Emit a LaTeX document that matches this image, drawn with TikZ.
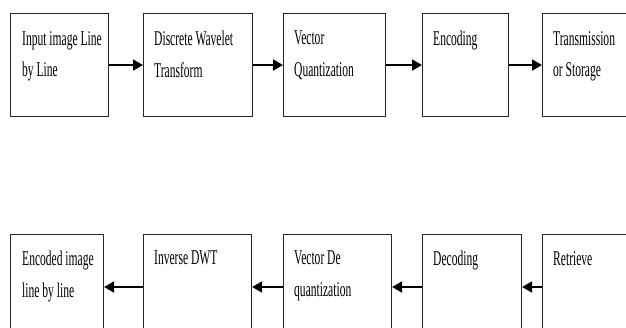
\documentclass[tikz,border=0pt]{standalone}
\usepackage{fontspec}
\setmainfont{Liberation Serif}[FakeStretch=0.55]
\usetikzlibrary{arrows.meta,positioning}
\begin{document}
\begin{tikzpicture}
            [x=1pt,y=-1pt,
             blk/.style ={draw=black!85,line width=1.1pt,anchor=north west,minimum height=103},
             lowblk/.style ={blk,minimum height=115},
             lbl/.style ={anchor=north west,inner sep=0pt,align=left,font=\fontsize{21}{31.5}\selectfont},
             flow/.style ={line width=1.8pt,-{Triangle[length=10pt,width=11pt]}}]
            \useasboundingbox (0,0) rectangle (626,328);
            \clip (0,0) rectangle (626,328);
            % top row
            \node[blk,minimum width=98] (input) at (10,13){};
            \node[blk,minimum width=109] (dwt) at (143,13){};
            \node[blk,minimum width=102] (vq) at (283,13){};
            \node[blk,minimum width=86] (enc) at (422,13){};
            \node[blk,minimum width=100] (trans) at (542,13){};
            \node[lbl] (tinput) at (22,31){Input image Line\\by Line};
            \node[lbl] (tdwt) at (154,31){Discrete Wavelet\\Transform};
            \node[lbl] (tvq) at (294,31){Vector\\Quantization};
            \node[lbl] (tenc) at (433,31){Encoding};
            \node[lbl] (ttrans) at (553,31){Transmission\\or Storage};
            \draw[flow] (input) to (dwt);
            \draw[flow] (dwt) to (vq);
            \draw[flow] (vq) to (enc);
            \draw[flow] (enc) to (trans);
            % bottom row
            \node[lowblk,minimum width=93] (encimg) at (10,234){};
            \node[lowblk,minimum width=108] (idwt) at (143,234){};
            \node[lowblk,minimum width=108] (devq) at (283,234){};
            \node[lowblk,minimum width=99] (dec) at (422,234){};
            \node[lowblk,minimum width=100] (ret) at (542,234){};
            \node[lbl] (tencimg) at (22,251){Encoded image\\line by line};
            \node[lbl] (tidwt) at (154,251){Inverse DWT};
            \node[lbl] (tdevq) at (294,251){Vector De\\quantization};
            \node[lbl] (tdec) at (433,251){Decoding};
            \node[lbl] (tret) at (553,251){Retrieve};
            \draw[flow] (idwt.west |- 0,287) to (encimg.east |- 0,287);
            \draw[flow] (devq.west |- 0,287) to (idwt.east |- 0,287);
            \draw[flow] (dec.west |- 0,287) to (devq.east |- 0,287);
            \draw[flow] (ret.west |- 0,287) to (dec.east |- 0,287);
        \end{tikzpicture}
\end{document}
